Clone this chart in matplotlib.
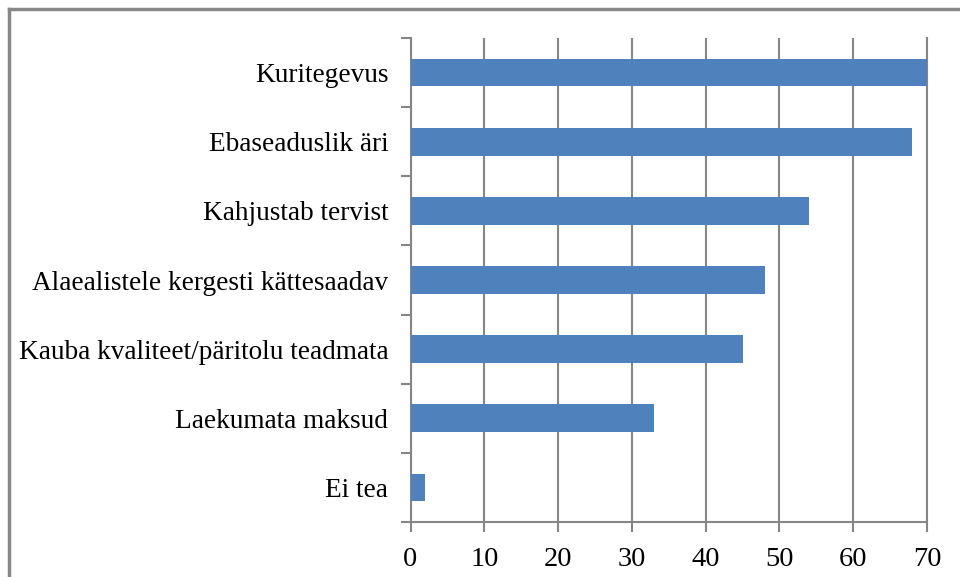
import matplotlib
matplotlib.use("Agg")
import matplotlib.pyplot as plt
from matplotlib.lines import Line2D
import numpy as np

categories = ["Kuritegevus", "Ebaseaduslik äri", "Kahjustab tervist",
              "Alaealistele kergesti kättesaadav", "Kauba kvaliteet/päritolu teadmata",
              "Laekumata maksud", "Ei tea"]
values = [70, 68, 54, 48, 45, 33, 2]
xticks = [0, 10, 20, 30, 40, 50, 60, 70]

plt.rcParams['font.family'] = ['Liberation Serif', 'DejaVu Serif']

W, H = 960, 577
fig = plt.figure(figsize=(W / 100, H / 100), dpi=100)
ax = fig.add_axes([410.5 / W, 1 - 522 / H, (927 - 410.5) / W, (522 - 38) / H])

n = len(categories)
ypos = np.arange(n)[::-1]
grid_c = "#868686"
ax.barh(ypos, values, height=0.4, color="#4F81BD", zorder=3)

ax.set_xlim(0, 70)
ax.set_ylim(-0.5, n - 0.5)
ax.set_xticks(xticks)
ax.set_xticklabels([str(t) for t in xticks], fontsize=20.5)
ax.set_yticks(ypos)
ax.set_yticklabels(categories, fontsize=19.6)
ax.set_yticks(np.arange(n + 1) - 0.5, minor=True)
ax.tick_params(axis="y", which="major", length=0, pad=16)
ax.tick_params(axis="y", which="minor", length=7, width=1.5, color=grid_c)
ax.tick_params(axis="x", which="major", length=7, width=1.5, color=grid_c, pad=11)

ax.xaxis.grid(True, color=grid_c, linewidth=1.5, zorder=0)
ax.set_axisbelow(True)
ax.spines["top"].set_visible(False)
for s in ["left", "bottom", "right"]:
    ax.spines[s].set_color(grid_c)
    ax.spines[s].set_linewidth(1.5)

# outer border
bc = "#888888"
fig.add_artist(Line2D([9 / W, 9 / W], [0, 1 - 9 / H], transform=fig.transFigure, color=bc, linewidth=2.5))
fig.add_artist(Line2D([9 / W, 1], [1 - 9 / H, 1 - 9 / H], transform=fig.transFigure, color=bc, linewidth=2.5))

fig.savefig("out.png", dpi=100)
